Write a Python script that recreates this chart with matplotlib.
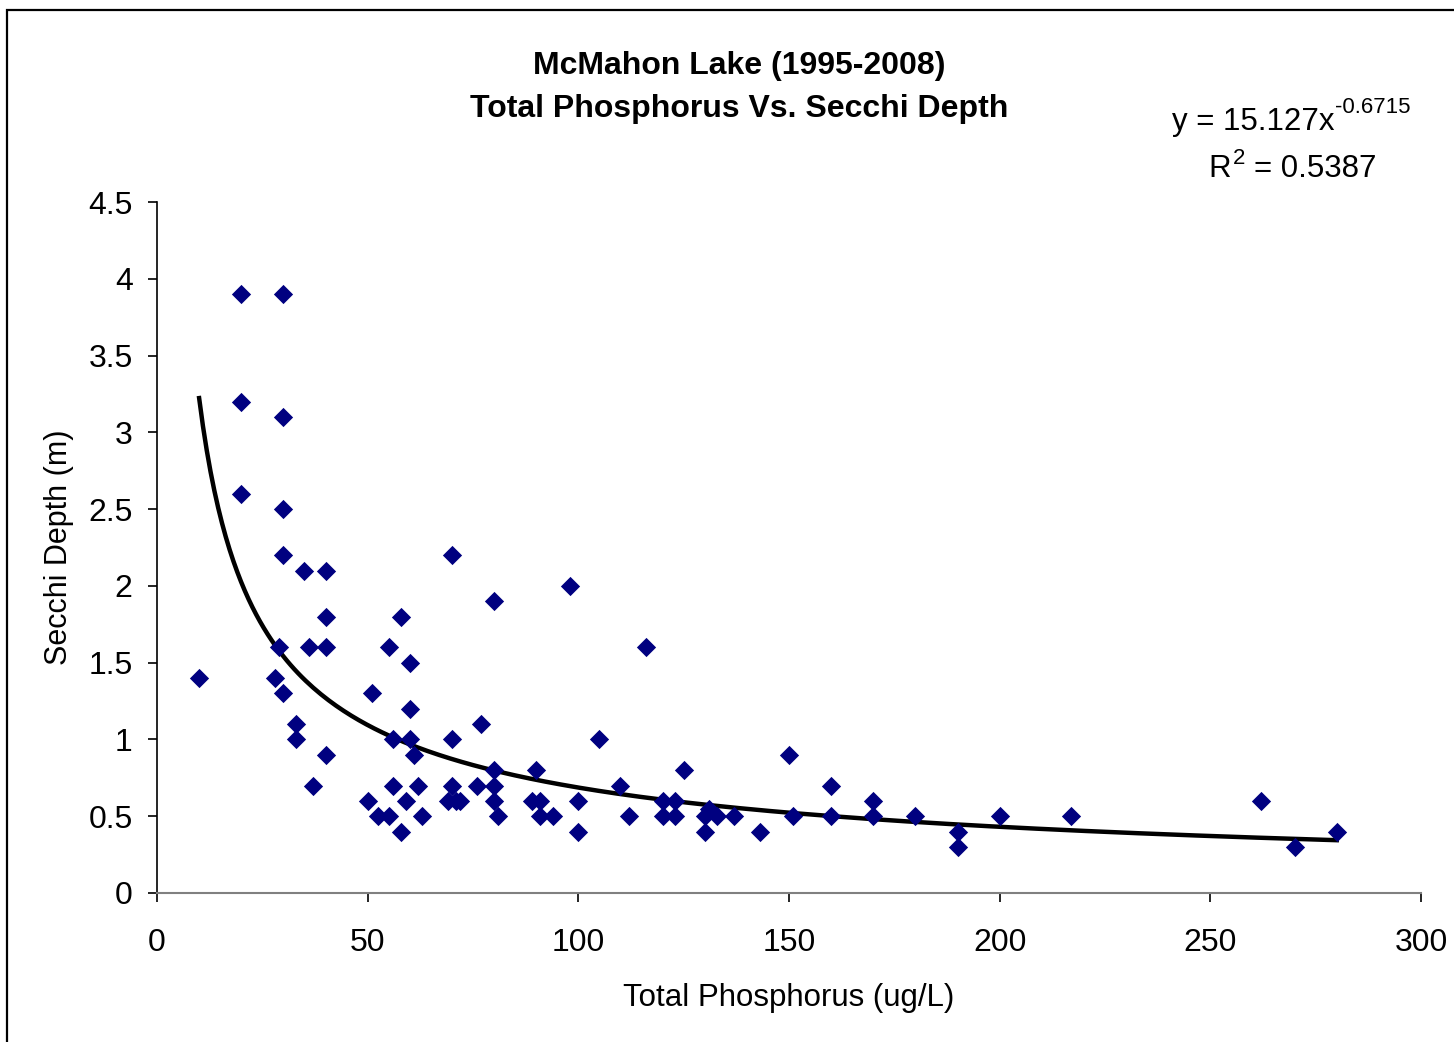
import numpy as np
import matplotlib
matplotlib.use("Agg")
import matplotlib.pyplot as plt
from matplotlib.patches import Rectangle

plt.rcParams['font.family'] = ['Liberation Sans', 'DejaVu Sans']

# ---- data ----
tp = [10, 20, 30, 20, 30, 20, 30, 30, 35, 40, 40, 29, 36, 40, 28, 30, 33, 33, 37, 40,
      50, 51, 52.5, 55, 55, 56, 56, 58, 58, 59, 60, 60, 60, 61, 62, 63,
      70, 70, 69, 70, 71, 72, 76, 77, 80, 80, 80, 80, 81, 89, 90, 91, 91, 94,
      98, 100, 100, 105, 110, 112, 116, 120, 120, 123, 123, 125, 130, 130, 131, 133, 137,
      143, 150, 151, 160, 160, 170, 170, 180, 190, 190, 200, 217, 262, 270, 280]
secchi = [1.4, 3.9, 3.9, 3.2, 3.1, 2.6, 2.5, 2.2, 2.1, 2.1, 1.8, 1.6, 1.6, 1.6, 1.4, 1.3, 1.1, 1.0, 0.7, 0.9,
          0.6, 1.3, 0.5, 0.5, 1.6, 1.0, 0.7, 0.4, 1.8, 0.6, 1.5, 1.2, 1.0, 0.9, 0.7, 0.5,
          2.2, 1.0, 0.6, 0.7, 0.6, 0.6, 0.7, 1.1, 1.9, 0.8, 0.7, 0.6, 0.5, 0.6, 0.8, 0.6, 0.5, 0.5,
          2.0, 0.4, 0.6, 1.0, 0.7, 0.5, 1.6, 0.6, 0.5, 0.6, 0.5, 0.8, 0.4, 0.5, 0.55, 0.5, 0.5,
          0.4, 0.9, 0.5, 0.7, 0.5, 0.6, 0.5, 0.5, 0.4, 0.3, 0.5, 0.5, 0.6, 0.3, 0.4]
fit_coef = 15.127
fit_exp = -0.6715
x_ticks = [0, 50, 100, 150, 200, 250, 300]
y_ticks = [0, 0.5, 1, 1.5, 2, 2.5, 3, 3.5, 4, 4.5]
y_ticklabels = ['0', '0.5', '1', '1.5', '2', '2.5', '3', '3.5', '4', '4.5']

W, H = 1454, 1042
fig = plt.figure(figsize=(W / 100, H / 100), dpi=100)

def fx(px):
    return px / W

def fy(py):
    return 1 - py / H

# outer chart border (extends past right/bottom edges)
fig.patches.append(Rectangle((fx(7), fy(1100)), fx(1500), fy(10) - fy(1100),
                             transform=fig.transFigure, fill=False,
                             edgecolor='black', linewidth=1.6, zorder=0))

ax = fig.add_axes([fx(157), fy(893), fx(1421) - fx(157), fy(202) - fy(893)])
ax.scatter(tp, secchi, marker='D', s=9.8 ** 2, color='#000080', linewidths=0, zorder=3)

xf = np.linspace(min(tp), max(tp), 300)
ax.plot(xf, fit_coef * xf ** fit_exp, color='black', linewidth=3.2, zorder=2)

ax.set_xlim(0, 300)
ax.set_ylim(0, 4.5)
ax.set_xticks(x_ticks)
ax.set_yticks(y_ticks)
ax.set_yticklabels(y_ticklabels)
for s in ['top', 'right']:
    ax.spines[s].set_visible(False)
ax.spines['left'].set_color('black')
ax.spines['bottom'].set_color('#808080')
ax.spines['left'].set_linewidth(1.2)
ax.spines['bottom'].set_linewidth(1.5)
ax.tick_params(axis='y', direction='out', length=6.5, width=1.2, color='black',
               labelsize=23, pad=11)
ax.tick_params(axis='x', direction='out', length=6.5, width=1.2, color='black',
               labelsize=23, pad=19)

ax.set_xlabel('Total Phosphorus (ug/L)', fontsize=22.5, labelpad=18)
ax.set_ylabel('Secchi Depth (m)', fontsize=22, labelpad=10)

# title
fig.text(fx(739), fy(74), 'McMahon Lake (1995-2008)', ha='center', va='baseline',
         fontsize=23, fontweight='bold')
fig.text(fx(739), fy(117), 'Total Phosphorus Vs. Secchi Depth', ha='center', va='baseline',
         fontsize=23, fontweight='bold')

# trendline equation
fig.text(fx(1172), fy(130), 'y = %.3fx' % fit_coef, ha='left', va='baseline', fontsize=22.5)
fig.text(fx(1335), fy(113), '-0.6715', ha='left', va='baseline', fontsize=16)
fig.text(fx(1208), fy(177), 'R', ha='left', va='baseline', fontsize=22.5)
fig.text(fx(1233), fy(164), '2', ha='left', va='baseline', fontsize=16)
fig.text(fx(1254), fy(177), '= 0.5387', ha='left', va='baseline', fontsize=22.5)

fig.savefig('out.png', dpi=100, facecolor='white')
